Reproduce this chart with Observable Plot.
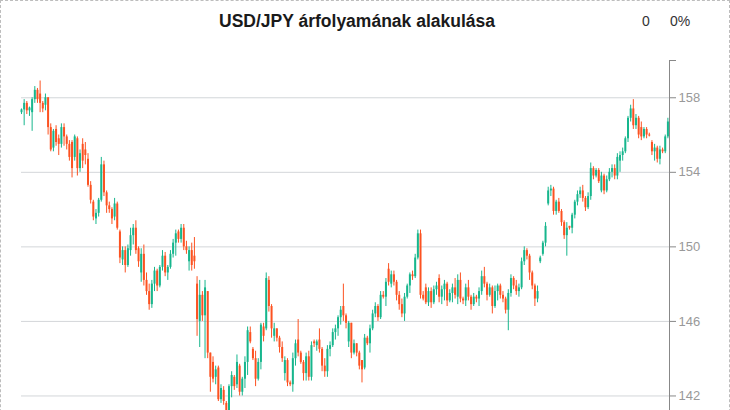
<!DOCTYPE html>
<html>
<head>
<meta charset="utf-8">
<script src="https://cdn.jsdelivr.net/npm/d3@7"></script>
<script src="https://cdn.jsdelivr.net/npm/@observablehq/plot@0.6"></script>
<style>
html,body{margin:0;padding:0;background:#fff;overflow:hidden;}
#wrap{position:relative;width:728px;height:520px;border:1px dashed #bdbdbd;font-family:"Liberation Sans",Arial,sans-serif;}
#head{position:relative;height:49px;}
#title{position:absolute;left:356px;top:10px;transform:translateX(-50%);font-weight:bold;font-size:17.5px;line-height:20px;color:#1a1a1a;white-space:nowrap;}
.chg{position:absolute;top:12px;font-size:14px;line-height:16px;color:#333;}
#chart svg{display:block;}
</style>
</head>
<body>
<div id="wrap">
  <div id="head">
    <div id="title"></div>
    <div class="chg" id="chgAbs" style="left:641px"></div>
    <div class="chg" id="chgPct" style="left:669px"></div>
  </div>
  <div id="chart"></div>
</div>
<script>
const titleText = "USD/JPY árfolyamának alakulása";
const changeAbs = "0";
const changePct = "0%";
const yTicks = [142, 146, 150, 154, 158];
const yTop = 160;
const yBottom = 138;
const upColor = "#17b68d";
const downColor = "#fc5221";

const open = [157.2,157.35,157.7,157.3,157.2,157.9,158.4,158.2,157.7,157.6,
158.0,156.4,155.3,156.3,155.8,155.5,156.4,155.9,155.5,155.6,
154.8,155.8,154.2,155.5,155.2,154.7,153.3,152.4,151.5,151.8,
152.5,154.4,152.9,152.2,152.0,151.6,152.3,150.8,149.3,149.8,
149.0,149.8,150.6,151.0,149.9,148.6,149.6,148.2,147.6,146.9,
148.0,148.7,147.9,148.9,149.5,148.6,148.9,149.6,150.2,150.8,
150.4,151.0,150.0,149.2,149.8,149.5,148.0,146.0,147.4,146.3,
147.6,144.3,143.8,143.0,143.5,141.8,142.3,141.6,140.9,142.5,
143.0,142.6,143.6,142.2,142.9,143.8,145.4,144.5,144.0,142.9,
143.8,145.7,145.6,148.2,146.8,145.2,145.6,145.1,144.6,143.2,
143.9,142.7,142.6,144.0,145.0,144.3,143.8,143.2,144.1,143.0,
144.9,144.7,145.0,144.5,143.6,143.3,144.5,144.7,145.4,145.6,
146.2,146.8,146.3,144.9,145.9,144.3,144.8,144.3,143.9,143.5,
145.1,144.8,145.6,146.4,146.8,146.2,147.4,147.3,148.8,148.0,
148.5,148.1,147.4,146.9,146.4,147.3,147.9,148.5,148.4,149.4,
150.7,147.4,147.8,147.0,147.6,147.0,147.7,148.3,147.3,147.7,
148.0,147.1,147.5,147.8,147.3,148.2,147.2,147.1,147.8,147.3,
146.9,147.3,147.2,147.6,148.4,148.0,147.4,147.8,146.8,147.6,
147.9,147.4,147.2,146.6,147.5,148.3,147.9,147.6,147.8,149.2,
149.8,149.5,148.6,147.9,147.2,149.2,149.6,150.2,152.3,153.0,
153.1,151.9,152.4,151.9,151.3,150.6,151.1,151.0,151.7,152.4,
152.8,153.0,152.6,152.1,152.7,154.2,153.8,154.1,153.0,153.8,
153.0,153.6,154.0,154.2,153.8,154.6,154.9,155.1,155.8,156.9,
157.4,156.5,156.9,156.4,155.9,156.3,156.0,155.6,155.1,155.3,
154.7,155.2,155.1,155.9];

const high = [157.4,157.9,157.8,157.5,158.0,158.6,158.5,158.9,157.8,158.2,
158.0,156.6,156.3,156.5,156.0,156.6,156.6,156.0,155.7,155.7,
156.0,155.9,155.2,155.8,155.6,155.0,153.5,152.5,152.0,152.6,
154.8,154.6,153.0,152.4,152.1,152.6,152.4,150.9,150.0,150.0,
150.1,151.0,151.2,151.4,150.0,149.9,150.1,148.6,148.0,148.2,
148.9,148.8,149.0,149.8,149.7,149.0,149.8,150.4,150.9,150.9,
151.2,151.2,150.3,150.0,150.2,150.5,148.4,148.2,147.6,148.2,
147.6,144.3,144.1,143.6,143.6,142.6,142.5,141.7,142.6,143.3,
143.1,144.2,143.7,143.0,144.1,145.7,145.7,144.6,144.4,144.0,
145.9,145.9,148.6,148.4,146.9,145.9,145.6,145.2,144.9,144.1,
144.0,142.8,144.3,145.0,146.1,144.4,143.9,144.3,144.4,144.9,
145.0,145.0,145.6,144.6,144.0,144.7,144.9,145.6,145.8,146.3,
146.8,148.0,146.4,146.0,145.9,145.0,144.8,144.4,143.9,145.3,
145.2,145.8,146.6,147.0,146.9,147.6,147.6,148.3,149.1,148.7,
148.7,148.2,147.6,147.2,147.5,148.0,148.6,148.7,149.6,150.9,
150.9,147.6,148.0,147.8,147.8,147.9,148.1,148.5,147.9,148.2,
148.1,147.7,148.0,148.3,148.5,148.6,147.3,148.0,148.2,147.4,
147.5,147.4,147.8,148.7,148.9,148.1,148.0,147.9,147.9,148.0,
148.0,147.6,147.3,147.7,148.5,148.4,148.2,148.0,149.4,150.0,
149.9,149.6,148.7,148.0,147.9,149.5,150.3,151.3,153.2,153.3,
153.2,152.5,152.6,152.0,151.4,151.3,151.1,151.8,152.5,153.0,
153.2,153.3,152.7,152.9,154.5,154.3,154.2,154.2,154.0,153.9,
153.8,154.2,154.4,154.4,155.0,155.1,155.3,155.9,157.0,157.6,
157.9,157.1,157.0,156.7,156.4,156.4,156.1,155.7,155.5,155.4,
155.4,155.3,156.0,156.9];

const low = [157.1,156.5,157.1,157.0,156.2,157.7,157.7,157.2,157.2,157.3,
156.0,155.1,155.1,155.4,154.9,155.3,155.4,155.2,154.6,153.7,
154.6,153.8,154.0,154.2,154.4,153.2,152.3,151.4,151.2,151.6,
152.4,152.7,151.8,151.8,151.2,151.4,150.9,149.1,149.0,148.6,
148.9,149.5,150.1,149.6,148.9,148.1,147.9,147.4,146.6,146.7,
147.6,147.6,147.8,148.7,148.4,148.2,148.8,149.4,149.5,150.2,
150.2,149.8,149.6,148.7,148.7,148.8,145.2,144.6,146.0,144.0,
144.0,142.2,142.7,142.6,141.7,141.6,141.5,140.6,139.9,141.9,
142.3,142.4,142.0,142.0,142.4,143.1,144.8,143.9,142.5,142.8,
143.4,144.9,145.5,146.5,145.1,144.9,144.9,144.3,143.8,142.8,
142.5,142.5,142.2,143.6,144.1,143.7,142.8,142.8,142.8,142.8,
144.6,144.4,144.3,143.3,143.0,143.0,144.1,144.6,145.0,145.2,
145.8,146.0,145.6,144.6,144.0,144.2,144.1,143.4,142.7,143.4,
144.7,144.3,145.5,146.2,146.0,146.1,147.2,146.8,147.9,147.8,
147.9,147.1,146.6,146.2,146.0,147.2,147.5,148.2,148.3,149.3,
147.2,147.1,146.9,146.8,146.7,146.9,147.4,147.0,146.9,147.1,
146.8,147.0,147.0,147.2,146.9,147.0,146.9,146.8,147.1,146.6,
146.8,147.0,146.8,147.4,147.8,147.1,147.3,146.4,146.7,147.1,
147.2,147.0,146.4,145.5,147.3,147.7,147.4,147.3,147.7,149.0,
149.3,148.2,147.7,146.8,147.0,149.1,149.5,150.0,152.2,152.7,
151.7,151.7,151.8,151.1,150.4,149.5,150.9,150.7,151.5,152.2,
152.6,152.4,151.9,152.0,152.5,153.6,153.7,153.4,152.9,152.8,
152.9,153.5,153.7,153.6,153.6,154.0,154.6,155.0,155.6,156.7,
156.3,156.3,155.8,155.7,155.8,155.8,155.9,154.9,154.6,154.5,
154.4,155.0,155.0,155.8];

const close = [157.35,157.7,157.3,157.45,157.9,158.4,157.9,157.7,157.4,158.0,
156.4,155.2,156.2,155.6,155.5,156.4,155.9,155.5,154.8,154.2,
155.9,154.2,155.0,154.6,154.9,153.3,152.5,151.6,151.8,152.5,
154.4,152.9,152.2,152.0,151.5,152.3,151.0,149.4,149.8,149.0,
149.9,150.6,151.0,149.8,149.2,149.6,148.2,147.6,146.9,148.0,
148.7,147.9,148.9,149.5,148.6,148.9,149.6,150.2,150.7,150.4,
151.0,150.0,149.8,149.8,149.0,149.2,146.1,147.4,146.3,147.8,
144.3,143.0,142.9,143.4,141.8,142.4,141.7,141.0,142.5,143.1,
142.5,143.8,142.2,142.9,143.8,145.5,144.9,144.0,142.9,143.8,
145.8,145.2,148.3,146.8,145.6,145.6,145.1,144.6,144.0,143.9,
142.7,142.6,144.0,144.8,144.3,143.8,143.2,144.1,143.0,144.7,
144.8,144.9,144.5,143.6,143.3,144.5,144.7,145.4,145.6,146.2,
146.6,146.3,145.9,145.9,144.3,144.8,144.3,143.6,143.4,145.1,
144.8,145.6,146.4,146.8,146.2,147.4,147.3,148.1,148.1,148.5,
148.1,147.4,146.9,146.4,147.3,147.9,148.5,148.4,149.4,150.7,
147.4,147.2,147.0,147.6,147.0,147.7,147.9,147.3,147.7,148.0,
147.1,147.5,147.8,147.4,148.2,147.2,147.1,147.8,147.3,146.9,
147.3,147.2,147.6,148.4,148.0,147.4,147.8,146.8,147.6,147.9,
147.4,147.2,146.6,147.5,148.3,147.9,147.6,147.8,149.2,149.8,
149.5,148.6,147.9,147.2,147.6,149.4,150.2,151.1,153.0,153.1,
151.9,152.4,151.9,151.3,150.6,151.0,151.0,151.7,152.4,152.8,
153.0,152.6,152.1,152.7,154.2,153.8,154.1,153.5,153.8,153.0,
153.6,154.0,154.2,153.8,154.8,154.9,155.1,155.8,156.9,157.4,
156.5,156.9,156.0,155.9,156.3,156.0,155.95,155.1,155.3,154.7,
155.2,155.1,155.9,156.7];

document.getElementById("title").textContent = titleText;
document.getElementById("chgAbs").textContent = changeAbs;
document.getElementById("chgPct").textContent = changePct;

const candles = close.map((c, i) => ({i, open: open[i], high: high[i], low: low[i], close: c}));
const xMax = candles.length - 0.4;
const col = d => d.close >= d.open ? upColor : downColor;

const chart = Plot.plot({
  width: 728,
  height: 450,
  marginLeft: 20,
  marginRight: 60,
  marginTop: 10,
  marginBottom: 30,
  style: {fontFamily: "'Liberation Sans', Arial, sans-serif", fontSize: "13px", background: "#fff"},
  x: {domain: [0, xMax], axis: null},
  y: {domain: [yBottom, yTop], axis: null},
  color: {type: "identity"},
  marks: [
    Plot.gridY(yTicks, {stroke: "#d3d6d9", strokeOpacity: 1}),
    Plot.ruleX(candles, {x: "i", y1: "low", y2: "high", stroke: col, strokeWidth: 1}),
    Plot.ruleX(candles, {x: "i", y1: "open", y2: "close", stroke: col, strokeWidth: 2}),
    Plot.ruleX([xMax], {stroke: "#888"}),
    Plot.axisY(yTicks, {anchor: "right", tickSize: 6, tickPadding: 3, stroke: "#888", fill: "#999", fontSize: 13}),
    Plot.axisY([yTop], {anchor: "right", tickSize: 6, tickFormat: () => "", stroke: "#888"})
  ]
});
document.getElementById("chart").appendChild(chart);
</script>
</body>
</html>
